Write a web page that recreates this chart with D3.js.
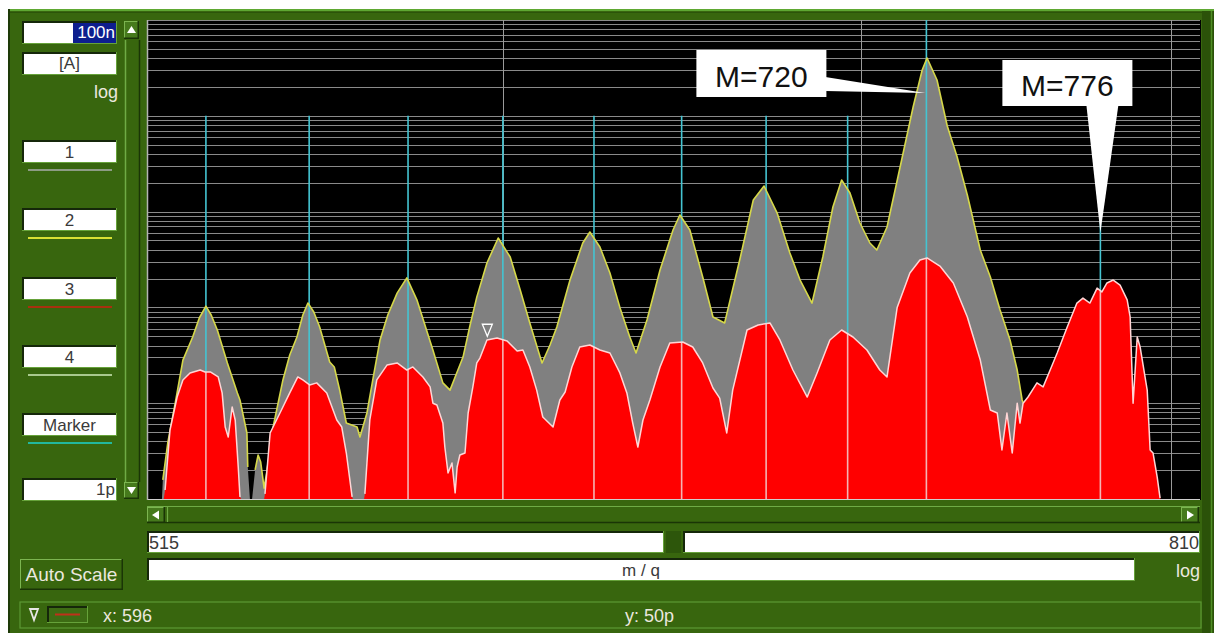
<!DOCTYPE html>
<html>
<head>
<meta charset="utf-8">
<script src="https://cdn.jsdelivr.net/npm/d3@7/dist/d3.min.js"></script>
<style>
html,body{margin:0;padding:0;background:#ffffff;overflow:hidden;}
svg{display:block;}
text{font-family:"Liberation Sans",Arial,Helvetica,sans-serif;}
</style>
</head>
<body>
<svg id="chart" width="1214" height="633"></svg>
<script>
// ---------------- data ----------------
const xDomain = [515, 810];          // m/q (log)
const yDomain = [1, 1e5];            // intensity in pA: 1p .. 100n (log)
const xGridValues = [600, 700, 800];
const yTopLabel = "100n", yBottomLabel = "1p", yUnitLabel = "[A]", yScaleLabel = "log";
const xMinLabel = "515", xMaxLabel = "810", xAxisTitle = "m / q", xScaleLabel = "log";
const channelLabels = ["1", "2", "3", "4", "Marker"];
const buttonLabel = "Auto Scale";
const statusX = "x: 596", statusY = "y: 50p";

// series 2 (grey fill, yellow outline)
const series2Mz = [518.1,518.3,519.4,521.0,522.8,525.0,526.5,528.0,529.2,530.6,
  532.9,535.2,535.8,537.4,537.6,538.1,538.6,539.3,540.0,540.6,
  541.4,542.1,543.5,545.8,547.4,549.1,550.5,551.7,553.1,554.5,
  556.9,558.0,559.3,560.9,563.5,564.2,565.9,567.4,569.1,571.0,
  573.3,575.7,578.2,580.2,582.2,584.7,586.5,588.0,589.8,591.6,
  593.3,595.9,598.8,601.9,604.5,607.0,610.2,612.3,614.1,617.6,
  621.0,622.9,625.6,628.3,631.0,633.7,635.4,638.4,642.0,645.6,
  647.5,650.3,653.9,656.8,660.1,664.6,668.3,671.4,675.2,678.9,
  681.9,685.4,688.6,691.6,694.2,696.7,699.7,702.7,704.8,707.9,
  711.9,715.9,718.7,720.2,723.3,726.5,729.6,732.8,736.9,740.1,
  743.2,746.4,748.7,750.3,752.9,762.7,769.2,779.2,785.3,787.0,
  789.4,792.8,795.5];
const series2PA = [1,1.58,3.84,9.58,28.2,49.1,77.5,103,83.3,58.1,
  26.3,12.8,10.8,4.89,2.16,1,1,2.01,2.88,2.43,
  1.30,2.01,5.64,17.5,31.9,49.1,83.3,111,89.5,62.4,
  26.9,23.9,13.7,6.21,5.64,4.44,7.9,18.3,45.7,83.3,
  141,203,120,65.5,35.9,16.3,13.7,19.7,30.3,65.5,
  128,291,530,336,152,68.8,26.3,40.5,62.4,193,
  470,612,427,229,100,49.1,33.4,73.9,246,643,
  921,643,208,79.4,68.8,336,1322,1850,966,370,
  193,111,336,1117,2137,1563,760,470,397,690,
  2922,12360,30060,40130,23650,7825,3715,1489,397,208,
  94,45.7,22.2,10.8,6.68,10.8,58.1,73.9,51.5,5.25,
  10.8,2.01,1];

// series 3 (red fill, pale outline)
const series3Mz = [518.5,518.8,519.9,521.5,522.8,524.4,526.7,527.8,529.0,530.8,
  531.7,532.4,533.1,534.0,534.7,535.4,535.8,536.1,541.4,541.6,
  542.8,545.1,547.4,549.3,550.5,552.1,553.8,556.2,558.6,559.8,
  560.9,562.3,562.5,565.2,565.4,566.6,568.3,570.8,573.3,575.7,
  577.2,579.7,581.5,582.2,583.2,584.7,585.2,586.0,587.0,587.8,
  588.3,589.0,590.3,591.1,592.3,593.3,594.1,595.9,598.5,601.1,
  603.7,605.2,607.0,608.8,610.4,613.1,614.9,616.3,618.1,620.2,
  622.9,625.6,628.3,631.0,632.9,634.5,635.9,637.3,639.2,642.0,
  644.7,648.3,651.1,653.9,656.8,658.7,660.7,662.4,666.5,669.7,
  673.1,676.0,679.8,684.0,686.9,690.7,694.2,697.6,701.8,705.7,
  707.9,711.0,714.9,718.0,720.2,724.2,728.4,732.8,736.9,740.1,
  742.3,743.8,745.4,747.1,748.7,749.6,750.6,752.2,755.1,757.1,
  759.4,761.7,765.0,768.2,770.2,772.5,774.9,776.5,778.2,780.3,
  782.6,785.0,786.0,787.0,788.4,789.4,791.8,792.8,793.8,795.2,
  796.2,796.5];
const series3PA = [1,1.24,5.25,11.6,17.5,20.7,22.2,21.2,21.2,18.8,
  12.8,5.64,4.44,9.13,6.68,2.16,1.05,1,1,1.13,
  4.89,7.9,12.8,18.8,17.5,15.5,16.3,12.8,6.68,5.64,
  3.02,1.05,1,1,1.13,6.68,17.5,25.0,26.3,22.2,
  23.9,18.8,14.8,10.0,9.58,6.21,3.49,1.87,2.38,1.16,
  2.16,2.88,3.02,7.9,14.8,26.3,29.6,45.7,47.9,44.6,
  35.1,35.9,23.9,13.7,7.18,5.64,10.8,13.1,23.9,38.6,
  40.5,35.9,33.4,20.7,12.8,6.21,3.49,6.68,10.8,23.9,
  42.5,43.5,38.6,26.3,14.4,11.3,4.89,13.7,58.1,65.5,
  68.8,45.7,22.2,11.6,20.7,45.7,58.1,49.1,35.9,22.2,
  18.8,100,229,312,328,270,180,79.4,28.2,8.49,
  7.9,3.25,7.9,3.02,10.0,6.21,10.0,11.6,16.3,14.8,
  22.2,33.4,62.4,111,125,111,159,145,180,193,
  171,120,79.4,10,49.1,38.6,13.7,3.25,3.02,1.70,
  1.02,1];

// mass markers
const markerMz = [528,552,576,600,624,648,672,696,720,776];
const markerTopPA = [1e4,1e4,1e4,1e4,1e4,1e4,1e4,1e4,1e5,1e4];
// callouts
const calloutLabels = ["M=720","M=776"];
const calloutMz = [720,776];
const calloutPA = [17300,600];
// cursor
const cursorMz = 596, cursorPA = 50;

// ---------------- drawing ----------------
const svg = d3.select("#chart");
const W = 1214, H = 633;
const G = "#38660e", GL = "#66a23a", GD = "#1a3506", TXT = "#ebe8de", BOXTXT = "#3a3a3a";
const P = {l:148, r:1200, t:20, b:499};
const x = d3.scaleLog().domain(xDomain).range([P.l, P.r]);
const y = d3.scaleLog().domain(yDomain).range([P.b, P.t]);

function R(x0,y0,w,h,f){return svg.append("rect").attr("x",x0).attr("y",y0).attr("width",w).attr("height",h).attr("fill",f);}
function L(x1,y1,x2,y2,c,w){return svg.append("line").attr("x1",x1).attr("y1",y1).attr("x2",x2).attr("y2",y2).attr("stroke",c).attr("stroke-width",w||1);}
function T(x0,y0,s,size,fill,anchor){return svg.append("text").attr("x",x0).attr("y",y0).attr("font-size",size).attr("fill",fill).attr("text-anchor",anchor||"start").text(s);}
function sunken(x0,y0,w,h,f){R(x0,y0,w,h,f); L(x0,y0+1,x0+w,y0+1,"#15270a",2); L(x0+1,y0,x0+1,y0+h,"#15270a",2); L(x0,y0+h-0.5,x0+w,y0+h-0.5,GL,1); L(x0+w-0.5,y0,x0+w-0.5,y0+h,GL,1);}
function raised(x0,y0,w,h,f){R(x0,y0,w,h,f); L(x0,y0+0.5,x0+w,y0+0.5,"#7cb550",1); L(x0+0.5,y0,x0+0.5,y0+h,"#7cb550",1); L(x0,y0+h-0.75,x0+w,y0+h-0.75,GD,1.5); L(x0+w-0.75,y0,x0+w-0.75,y0+h,GD,1.5);}

// page + window frame
R(0,0,W,H,"#ffffff");
R(8,9,W-8,H-9,G);
L(8,10,W,10,"#5ea832",2);
L(8,12.5,W,12.5,"#2c540a",1);
L(9,9,9,H,"#1e3a08",2);
R(1202,11,12,H-11,"#2b5209");
L(1211.5,11,1211.5,H,"#4f8f26",1.5);

// ---- plot area ----
R(P.l-1,P.t,P.r-P.l+2,P.b-P.t+1,"#000");
const plot = svg.append("g");
// horizontal log grid
plot.selectAll("line.hg").data(y.ticks()).join("line")
  .attr("x1",P.l).attr("x2",P.r)
  .attr("y1",d=>Math.round(y(d))+0.5).attr("y2",d=>Math.round(y(d))+0.5)
  .attr("stroke","#8a8a8a").attr("stroke-width",1);
// vertical grid
plot.selectAll("line.vg").data(xGridValues).join("line")
  .attr("x1",d=>Math.round(x(d))+0.5).attr("x2",d=>Math.round(x(d))+0.5)
  .attr("y1",P.t).attr("y2",P.b)
  .attr("stroke","#9a9a9a").attr("stroke-width",1);
// left axis line
L(P.l-0.5,P.t,P.l-0.5,P.b+1,"#b4b4b4",1.5);

const s2 = series2Mz.map((m,i)=>[m,series2PA[i]]);
const s3 = series3Mz.map((m,i)=>[m,series3PA[i]]);
const area = d3.area().x(d=>x(d[0])).y0(y(yDomain[0])).y1(d=>y(d[1]));
const line = d3.line().x(d=>x(d[0])).y(d=>y(d[1])).defined(d=>d[1]>1.0);

// series 2
plot.append("path").attr("d",area(s2)).attr("fill","#808080");
// marker lines (cyan)
const mk = markerMz.map((m,i)=>[m,markerTopPA[i]]);
plot.selectAll("line.mk").data(mk).join("line")
  .attr("x1",d=>x(d[0])).attr("x2",d=>x(d[0]))
  .attr("y1",d=>y(d[1])).attr("y2",P.b)
  .attr("stroke","#44c4d2").attr("stroke-width",1.6);
plot.append("path").attr("d",line(s2)).attr("fill","none")
  .attr("stroke","#d6d84a").attr("stroke-width",1.6).attr("stroke-linejoin","round");

// series 3
svg.append("defs").append("clipPath").attr("id","redClip")
  .append("path").attr("d",area(s3));
plot.append("path").attr("d",area(s3)).attr("fill","#ff0000");
plot.append("g").attr("clip-path","url(#redClip)")
  .selectAll("line").data(mk).join("line")
  .attr("x1",d=>x(d[0])).attr("x2",d=>x(d[0]))
  .attr("y1",d=>y(d[1])).attr("y2",P.b)
  .attr("stroke","#f4b4b4").attr("stroke-width",1.6);
plot.append("path").attr("d",line(s3)).attr("fill","none")
  .attr("stroke","#ffd6d6").attr("stroke-width",1.5).attr("stroke-linejoin","round");
// baseline
L(P.l,P.b+0.5,P.r,P.b+0.5,"#cfcfcf",1.2);

// cursor triangle
{
  const cx = x(cursorMz), cy = y(cursorPA);
  plot.append("path").attr("d",`M${cx-5},${cy-12}L${cx+5},${cy-12}L${cx},${cy}Z`)
    .attr("fill","none").attr("stroke","#ffffff").attr("stroke-width",1.3);
}

// callouts
{
  // M=720
  let tx = x(calloutMz[0]), ty = y(calloutPA[0]);
  let bx = tx-230, by = ty-43, bw = 130, bh = 47;
  plot.append("path").attr("d",`M${bx+bw-1},${by+27}L${tx-1},${ty}L${bx+bw-1},${by+41}Z`).attr("fill","#fff");
  plot.append("rect").attr("x",bx).attr("y",by).attr("width",bw).attr("height",bh).attr("fill","#fff");
  plot.append("text").attr("x",bx+bw/2).attr("y",by+37).attr("font-size",30).attr("fill","#111")
    .attr("text-anchor","middle").text(calloutLabels[0]);
  // M=776
  tx = x(calloutMz[1]); ty = y(calloutPA[1]);
  bx = tx-98; by = 60; bh = 46;
  plot.append("path").attr("d",`M${tx-14},${by+bh-1}L${tx},${ty}L${tx+18},${by+bh-1}Z`).attr("fill","#fff");
  plot.append("rect").attr("x",bx).attr("y",by).attr("width",bw).attr("height",bh).attr("fill","#fff");
  plot.append("text").attr("x",bx+bw/2).attr("y",by+36).attr("font-size",30).attr("fill","#111")
    .attr("text-anchor","middle").text(calloutLabels[1]);
}

// ---- left panel ----
// top value box with selection
sunken(22,21,95,23,"#fff");
R(73,23,43,20,"#0d1e8e");
T(115,38,yTopLabel,17,"#ffffff","end");
sunken(22,52,95,23,"#fff");
T(69.5,69,yUnitLabel,17,BOXTXT,"middle");
T(118,98,yScaleLabel,18,TXT,"end");
const chanTops = [140,208,277,345,413];
const chanColors = ["#8d9c84","#d8e034","#a8300e","#a9c98e","#22b89e"];
channelLabels.forEach((lab,i)=>{
  sunken(22,chanTops[i],95,23,"#fff");
  T(69.5,chanTops[i]+18,lab,17,BOXTXT,"middle");
  L(28,chanTops[i]+30,112,chanTops[i]+30,chanColors[i],2);
});
sunken(22,478,95,23,"#fff");
T(115,495,yBottomLabel,17,BOXTXT,"end");

// vertical scrollbar
R(124,40,16,442,G);
L(125.5,40,125.5,482,"#6fab45",1.5);
L(139.5,40,139.5,482,GD,1.5);
raised(124,21,15,18,"#467a1c");
svg.append("path").attr("d","M131.5,26L127,33L136,33Z").attr("fill","#fff");
raised(124,482,15,17,"#467a1c");
svg.append("path").attr("d","M127,487L136,487L131.5,494Z").attr("fill","#fff");

// ---- bottom controls ----
// horizontal scrollbar
R(147,506,1053,17,G);
L(147,506.5,1200,506.5,"#6fab45",1);
L(147,522.5,1200,522.5,GD,1.5);
raised(147,507,18,16,"#467a1c");
svg.append("path").attr("d","M152,515L159,510.5L159,519.5Z").attr("fill","#fff");
L(167.5,507,167.5,522,"#6fab45",1.2);
raised(1181,507,18,16,"#467a1c");
svg.append("path").attr("d","M1194,515L1187,510.5L1187,519.5Z").attr("fill","#fff");

// range boxes
sunken(147,531,517,22,"#fff");
T(149,549,xMinLabel,18,BOXTXT,"start");
R(666,531,15,22,"#2d560b");
sunken(683,531,517,22,"#fff");
T(1199,549,xMaxLabel,18,BOXTXT,"end");
sunken(147,558,988,23,"#fff");
T(641,576,xAxisTitle,17,BOXTXT,"middle");
T(1200,577,xScaleLabel,18,TXT,"end");

// Auto Scale button
raised(20,559,103,31,G);
T(71.5,581,buttonLabel,19,TXT,"middle");

// status bar
R(20,602,1181,26,G).attr("stroke","#5c9834").attr("stroke-width",1.2);
svg.append("path").attr("d","M30,609L38,609L34,620Z").attr("fill","none").attr("stroke","#e6e6e6").attr("stroke-width",1.8);
sunken(47,606,41,17,"#3d6c14");
L(55,614.5,80,614.5,"#c0301a",2);
T(103,622,statusX,18,TXT,"start");
T(625,622,statusY,18,TXT,"start");
</script>
</body>
</html>
